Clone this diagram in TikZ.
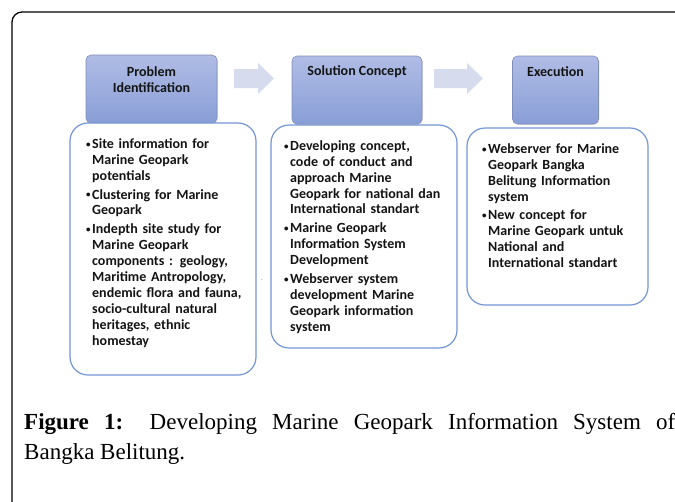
\documentclass[tikz,border=0pt]{standalone}
\usepackage{fontspec}
\setmainfont{Carlito}
\newfontfamily\capfont{Liberation Serif}
\usetikzlibrary{shadows}
\definecolor{hdrtop}{RGB}{176,188,229}
\definecolor{hdrbot}{RGB}{137,158,215}
\definecolor{hdrline}{RGB}{128,142,186}
\definecolor{arrowfill}{RGB}{214,220,238}
\definecolor{boxline}{RGB}{116,150,212}
\definecolor{txt}{RGB}{20,20,20}
\newcommand{\bul}{\leavevmode\llap{\raisebox{1.3pt}{\fontsize{9}{9}\selectfont\textbullet}\kern1.5pt}}
\begin{document}
\begin{tikzpicture}[x=1pt,y=-1pt,
  hdr/.style={rectangle, rounded corners=5pt, top color=hdrtop, bottom color=hdrbot,
    draw=hdrline, line width=0.6pt,
    drop shadow={opacity=0.25, shadow xshift=0.8pt, shadow yshift=-0.8pt}},
  hdrtxt/.style={inner sep=0pt, align=center, text=txt,
    font=\fontsize{14}{16}\selectfont\bfseries},
  blockarrow/.style={fill=arrowfill, draw=none},
  lbox/.style={rectangle, rounded corners=18pt, draw=boxline, line width=1.2pt, fill=white},
  lst/.style={anchor=north west, inner sep=0pt, align=left, text width=175pt, text=txt,
    font=\fontsize{14}{15.9}\selectfont\bfseries},
  captxt/.style={anchor=base west, inner sep=0pt, font=\capfont\fontsize{23}{30}\selectfont}
]
\useasboundingbox (0,0) rectangle (675,501);
\clip (0,0) rectangle (675,501);
\fill[white] (0,0) rectangle (675,501);
% outer frame
\draw[line width=1.3pt, rounded corners=10pt] (12,530) -- (12,12) -- (700,12);

% header boxes
\node[hdr, minimum width=131pt, minimum height=68pt] (h1) at (151.5,89) {};
\node[hdr, minimum width=130pt, minimum height=68pt] (h2) at (357,90) {};
\node[hdr, minimum width=86pt, minimum height=68pt] (h3) at (555.5,90) {};
\node[hdrtxt] (h1t) at (151.5,80) {Problem\\Identification};
\node[hdrtxt] (h2t) at (357,72) {Solution Concept};
\node[hdrtxt] (h3t) at (555.5,72) {Execution};

% block arrows
\fill[blockarrow] (234,69) -- (258,69) -- (258,63) -- (274,78.5) -- (258,94) -- (258,88) -- (234,88) -- cycle;
\fill[blockarrow] (434,69) -- (467,69) -- (467,63) -- (483,78.5) -- (467,94) -- (467,88) -- (434,88) -- cycle;

% lower boxes
\node[lbox, minimum width=186pt, minimum height=252pt] (b1) at (163,249) {};
\node[lbox, minimum width=186pt, minimum height=223pt] (b2) at (364,236.5) {};
\node[lbox, minimum width=181pt, minimum height=177pt] (b3) at (557.5,216.5) {};

\node[lst] (t1) at (92,137) {\strut\bul Site information for\\Marine Geopark\\potentials\\[3pt]%
\bul Clustering for Marine\\Geopark\\[3pt]%
\bul Indepth site study for\\Marine Geopark\\components : geology,\\Maritime Antropology,\\endemic flora and fauna,\\socio-cultural natural\\heritages, ethnic\\homestay};

\node[lst] (t2) at (290,139) {\strut\bul Developing concept,\\code of conduct and\\approach Marine\\Geopark for national dan\\International standart\\[3pt]%
\bul Marine Geopark\\Information System\\Development\\[3pt]%
\bul Webserver system\\development Marine\\Geopark information\\system};

\node[lst] (t3) at (488,142) {\strut\bul Webserver for Marine\\Geopark Bangka\\Belitung Information\\system\\[3pt]%
\bul New concept for\\Marine Geopark untuk\\National and\\International standart};

\node[inner sep=0pt, text=gray, font=\fontsize{8}{8}\selectfont] (dot) at (262,280) {.};

% caption
\node[captxt] (cap1) at (24,429) {\makebox[651pt][s]{\textbf{Figure 1:} Developing Marine Geopark Information System of}};
\node[captxt] (cap2) at (24,459) {Bangka Belitung.};
\end{tikzpicture}
\end{document}
